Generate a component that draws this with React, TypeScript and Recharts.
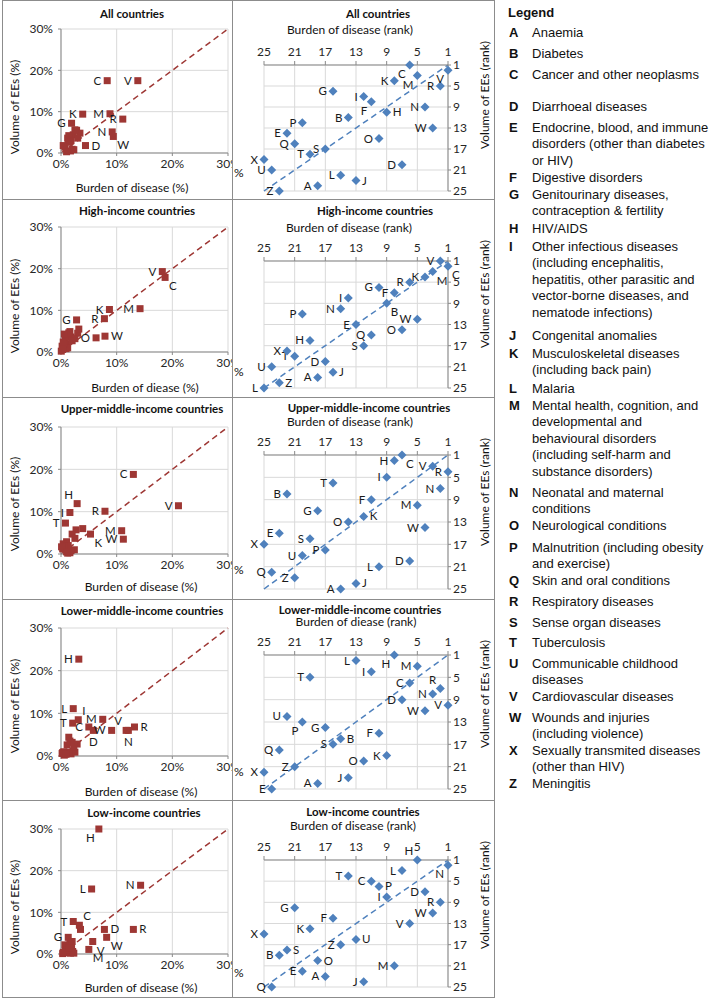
import React from 'react';
import { ScatterChart, Scatter, XAxis, YAxis, CartesianGrid, ReferenceLine } from 'recharts';

// disease letters, same order in every array below
const diseases = ['A', 'B', 'C', 'D', 'E', 'F', 'G', 'H', 'I', 'J', 'K', 'L', 'M', 'N', 'O', 'P', 'Q', 'R', 'S', 'T', 'U', 'V', 'W', 'X', 'Z'];

const panelTitles = ['All countries', 'High-income countries', 'Upper-middle-income countries', 'Lower-middle-income countries', 'Low-income countries'];
const pctXTitles = ['Burden of disease (%)', 'Burden of diease (%)', 'Burden of disease (%)', 'Burden of disease (%)', 'Burden of disease (%)'];
const rankXTitles = ['Burden of disease (rank)', 'Burden of disease (rank)', 'Burden of disease (rank)', 'Burden of diease (rank)', 'Burden of disease (rank)'];
const pctTicks = [0, 10, 20, 30];
const rankTicks = [1, 5, 9, 13, 17, 21, 25];

// All countries
const allBurdenPct = [1.7, 2.2, 8.3, 4.4, 1.2, 2.8, 1.9, 3.4, 2.5, 2.3, 3.9, 2.0, 8.8, 9.2, 3.0, 1.4, 1.3, 11.1, 1.8, 1.5, 0.7, 13.8, 9.4, 0.4, 1.0];
const allVolumePct = [0.5, 4.4, 17.5, 1.8, 3.6, 5.5, 7.2, 4.8, 5.6, 0.8, 9.4, 0.9, 9.5, 5.1, 3.6, 4.2, 3.2, 8.2, 3.0, 2.6, 1.4, 17.5, 4.0, 1.8, 0.3];
const allBurdenRank = [18, 14, 6, 7, 22, 11, 16, 9, 12, 13, 8, 15, 5, 4, 10, 20, 21, 2, 17, 19, 24, 1, 3, 25, 23];
const allVolumeRank = [24, 11, 1, 20, 14, 8, 6, 10, 7, 23, 4, 22, 3, 9, 15, 12, 16, 5, 17, 18, 21, 2, 13, 19, 25];

// High-income countries
const highBurdenPct = [0.9, 3.0, 18.7, 1.1, 1.8, 3.2, 2.8, 0.8, 1.6, 1.2, 8.7, 0.05, 14.2, 1.4, 6.3, 0.6, 2.5, 7.8, 2.0, 0.5, 0.2, 18.2, 7.9, 0.4, 0.3];
const highVolumePct = [0.8, 4.5, 17.9, 1.8, 3.6, 5.5, 7.7, 3.0, 4.9, 1.0, 10.2, 0.2, 10.4, 4.6, 3.4, 4.3, 3.2, 8.0, 2.7, 2.0, 1.4, 19.3, 3.8, 2.4, 0.6];
const highBurdenRank = [18, 9, 1, 17, 13, 8, 10, 19, 14, 16, 4, 25, 3, 15, 7, 20, 11, 6, 12, 21, 24, 2, 5, 22, 23];
const highVolumeRank = [23, 9, 2, 20, 13, 7, 6, 16, 8, 22, 4, 25, 3, 10, 14, 11, 15, 5, 17, 19, 21, 1, 12, 18, 24];

// Upper-middle-income countries
const upperBurdenPct = [1.2, 1.0, 13.0, 2.4, 0.4, 2.7, 2.0, 2.9, 1.6, 1.6, 5.3, 1.8, 10.9, 3.9, 2.5, 1.3, 0.3, 7.9, 0.7, 0.8, 0.6, 21.1, 11.2, 0.1, 1.0];
const upperVolumePct = [0.2, 2.9, 18.8, 1.0, 2.4, 5.7, 4.7, 11.9, 9.8, 0.3, 4.7, 0.8, 5.5, 6.0, 3.7, 2.0, 1.2, 10.1, 1.3, 7.3, 1.8, 11.4, 3.5, 1.7, 0.5];
const upperBurdenRank = [15, 22, 7, 6, 23, 11, 18, 8, 9, 13, 12, 10, 5, 2, 14, 17, 24, 1, 19, 16, 20, 3, 4, 25, 21];
const upperVolumeRank = [25, 8, 1, 20, 15, 9, 11, 2, 5, 24, 12, 21, 10, 7, 13, 18, 22, 4, 16, 6, 19, 3, 14, 17, 23];

// Lower-middle-income countries
const lowerBurdenPct = [1.8, 2.9, 5.0, 5.8, 0.6, 1.4, 1.6, 3.2, 3.1, 2.5, 2.0, 2.2, 7.5, 12.1, 1.4, 0.5, 0.2, 13.2, 2.3, 2.1, 1.1, 11.7, 9.1, 0.3, 0.9];
const lowerVolumePct = [0.5, 2.8, 6.8, 6.0, 0.2, 4.4, 3.5, 22.7, 8.5, 0.9, 3.2, 11.1, 8.6, 6.0, 0.9, 1.0, 0.6, 6.8, 2.0, 7.7, 2.6, 6.0, 6.0, 0.8, 0.4];
const lowerBurdenRank = [18, 15, 6, 7, 24, 10, 17, 8, 11, 14, 9, 13, 5, 3, 12, 20, 23, 2, 16, 19, 22, 1, 4, 25, 21];
const lowerVolumeRank = [24, 16, 6, 9, 25, 15, 14, 1, 4, 23, 19, 2, 3, 8, 20, 13, 18, 7, 17, 5, 12, 10, 11, 22, 21];

// Low-income countries
const lowBurdenPct = [1.7, 0.8, 3.3, 7.8, 1.2, 1.6, 1.3, 6.8, 2.0, 2.3, 0.7, 5.5, 5.0, 14.3, 2.1, 3.5, 0.3, 13.0, 1.0, 2.2, 1.9, 5.7, 8.2, 0.4, 1.5];
const lowVolumePct = [0.2, 0.6, 6.9, 5.9, 0.3, 2.8, 4.0, 30.0, 3.0, 0.2, 2.2, 15.6, 1.1, 16.5, 0.6, 5.9, 0.1, 5.9, 1.0, 7.8, 1.8, 3.0, 4.0, 0.4, 1.4];
const lowBurdenRank = [17, 23, 11, 4, 20, 16, 21, 5, 9, 12, 19, 7, 8, 1, 18, 10, 24, 2, 22, 14, 13, 6, 3, 25, 15];
const lowVolumeRank = [23, 19, 5, 7, 22, 12, 10, 1, 8, 24, 14, 3, 21, 2, 20, 6, 25, 9, 18, 4, 16, 13, 11, 15, 17];

const legendText = [
  ['Anaemia'],
  ['Diabetes'],
  ['Cancer and other neoplasms'],
  ['Diarrhoeal diseases'],
  ['Endocrine, blood, and immune', 'disorders (other than diabetes', 'or HIV)'],
  ['Digestive disorders'],
  ['Genitourinary diseases,', 'contraception & fertility'],
  ['HIV/AIDS'],
  ['Other infectious diseases', '(including encephalitis,', 'hepatitis, other parasitic and', 'vector-borne diseases, and', 'nematode infections)'],
  ['Congenital anomalies'],
  ['Musculoskeletal diseases', '(including back pain)'],
  ['Malaria'],
  ['Mental health, cognition, and', 'developmental and', 'behavioural disorders', '(including self-harm and', 'substance disorders)'],
  ['Neonatal and maternal', 'conditions'],
  ['Neurological conditions'],
  ['Malnutrition (including obesity', 'and exercise)'],
  ['Skin and oral conditions'],
  ['Respiratory diseases'],
  ['Sense organ diseases'],
  ['Tuberculosis'],
  ['Communicable childhood', 'diseases'],
  ['Cardiovascular diseases'],
  ['Wounds and injuries', '(including violence)'],
  ['Sexually transmited diseases', '(other than HIV)'],
  ['Meningitis'],
];

// which letters are written next to the points, and on which side
const pctSides: Record<string, string>[] = [
  { C: 'l', V: 'l', K: 'l', M: 'l', R: 'l', G: 'l', N: 'l', W: 'br', D: 'r' },
  { V: 'l', C: 'br', K: 'l', M: 'l', R: 'l', G: 'l', O: 'l', W: 'r' },
  { C: 'l', V: 'l', H: 'al', I: 'l', R: 'l', T: 'l', M: 'l', W: 'l', K: 'br' },
  { H: 'l', L: 'l', I: 'ar', M: 'l', T: 'l', C: 'l', D: 'b', W: 'l', V: 'al', R: 'r', N: 'b' },
  { H: 'bl', L: 'l', N: 'l', T: 'l', C: 'ar', D: 'r', R: 'r', G: 'l', W: 'br', V: 'br', M: 'br' },
];
const rankSides: Record<string, string>[] = [
  { H: 'r', J: 'r', F: 'bl', C: 'bl', M: 'bl', V: 'bl' },
  { C: 'br', M: 'br', B: 'br', J: 'r', Z: 'r' },
  { C: 'br', K: 'r', J: 'r' },
  { H: 'bl', R: 'al', P: 'bl', B: 'r' },
  { H: 'al', N: 'bl', P: 'r', U: 'r', S: 'r', O: 'r' },
];

const RED = '#9E3734';
const BLUE = '#4F81BD';
const AXIS = '#898989';
const GRID = '#D9D9D9';
const FONT = 'Lato, "Open Sans", sans-serif';
const LEGEND_FONT = '"Liberation Sans", Arial, sans-serif';

const rowTop = [0, 199, 397, 599, 800];
const rowH = [199, 198, 202, 201, 197];
const pctPlot = [[29, 153], [28, 153], [30, 157], [29, 157], [29, 154]];
const rankPlot = [[65, 191], [62, 189], [58, 192], [56, 190], [60, 187]];
const pctTitleX = [130, 135, 140, 140, 142];
const pctTitleY = [14, 12, 12, 12, 13];
const pctXTitleX = [130, 143, 139, 139, 139];
const pctXTitleY = [188, 189, 190, 193, 188];
const rankTitleX = [145, 142, 136, 127, 130];
const rankTitleY = [14, 12, 11, 11, 12];
const rankSubX = [117, 116, 117, 123, 120];
const rankSubY = [30, 29, 25, 23, 26];

const legendY = [33, 54, 75, 107, 128, 178, 195, 229, 247, 336, 354, 389, 406, 493, 526, 548, 581, 602, 623, 643, 664, 697, 718, 751, 784];

type Pt = { id: string; x: number; y: number };
const toPts = (xs: number[], ys: number[]): Pt[] => diseases.map((id, i) => ({ id, x: xs[i], y: ys[i] }));

const OFF: Record<string, [number, number, 'start' | 'middle' | 'end']> = {
  l: [-6, 4, 'end'],
  r: [6, 4, 'start'],
  b: [0, 16, 'middle'],
  bl: [-4, 13, 'end'],
  br: [4, 13, 'start'],
  al: [-4, -5, 'end'],
  ar: [4, -5, 'start'],
};

const makeShape = (kind: 'square' | 'diamond', color: string, sides: Record<string, string>, labelAll: boolean) =>
  (p: any) => {
    const { cx, cy, payload } = p;
    const side = sides[payload.id] ?? (labelAll ? 'l' : undefined);
    const o = side ? OFF[side] : null;
    return (
      <g>
        {kind === 'square' ? (
          <rect x={cx - 3.5} y={cy - 3.5} width={7} height={7} fill={color} />
        ) : (
          <path d={`M${cx},${cy - 4.5}L${cx + 4.5},${cy}L${cx},${cy + 4.5}L${cx - 4.5},${cy}Z`} fill={color} />
        )}
        {o && (
          <text x={cx + o[0]} y={cy + o[1]} textAnchor={o[2]} fontSize={11.5} fontFamily={FONT} fill="#1a1a1a">
            {payload.id}
          </text>
        )}
      </g>
    );
  };

const tickStyle = { fontSize: 12, fill: '#262626', fontFamily: FONT };

function Text({ x, y, children, bold, size = 12, rotate }: any) {
  return (
    <div
      style={{
        position: 'absolute', left: x, top: y, whiteSpace: 'nowrap', lineHeight: 1,
        transform: `translate(-50%, -50%)${rotate ? ' rotate(-90deg)' : ''}`,
        fontFamily: FONT, fontSize: size, fontWeight: bold ? 700 : 400, color: '#111',
      }}
    >
      {children}
    </div>
  );
}

function PctPanel({ i, burden, volume }: { i: number; burden: number[]; volume: number[] }) {
  const [pt, pb] = pctPlot[i];
  const h = rowH[i];
  return (
    <div style={{ position: 'absolute', left: 2, top: rowTop[i], width: 230, height: h }}>
      <ScatterChart width={230} height={h} margin={{ top: pt, right: 4, bottom: h - pb - 20, left: 0 }}>
        <CartesianGrid stroke={GRID} />
        <XAxis type="number" dataKey="x" domain={[0, 30]} ticks={pctTicks} interval={0} tickFormatter={(v) => `${v}%`}
          height={20} tickSize={3} tickMargin={3} axisLine={{ stroke: AXIS }} tickLine={{ stroke: AXIS }} tick={tickStyle} />
        <YAxis type="number" dataKey="y" domain={[0, 30]} ticks={pctTicks} interval={0} tickFormatter={(v) => `${v}%`}
          width={59} tickSize={3} tickMargin={5} axisLine={{ stroke: AXIS }} tickLine={{ stroke: AXIS }} tick={tickStyle} />
        <ReferenceLine segment={[{ x: 0, y: 0 }, { x: 30, y: 30 }]} stroke={RED} strokeWidth={1.5} strokeDasharray="6 4" />
        <Scatter data={toPts(burden, volume)} shape={makeShape('square', RED, pctSides[i], false)} isAnimationActive={false} />
      </ScatterChart>
      <Text x={pctTitleX[i]} y={pctTitleY[i]} bold size={11.5}>{panelTitles[i]}</Text>
      <Text x={pctXTitleX[i]} y={pctXTitleY[i]}>{pctXTitles[i]}</Text>
      <Text x={13} y={107} rotate>Volume of EEs (%)</Text>
    </div>
  );
}

function RankPanel({ i, burden, volume }: { i: number; burden: number[]; volume: number[] }) {
  const [pt, pb] = rankPlot[i];
  const h = rowH[i];
  return (
    <div style={{ position: 'absolute', left: 233, top: rowTop[i], width: 261, height: h, overflow: 'hidden' }}>
      <ScatterChart width={261} height={h} margin={{ top: pt - 20, right: 0, bottom: h - pb, left: 31 }}>
        <CartesianGrid stroke={GRID} />
        <XAxis type="number" dataKey="x" orientation="top" reversed domain={[1, 25]} ticks={rankTicks} interval={0}
          height={20} tickSize={4} tickMargin={5} axisLine={{ stroke: AXIS }} tickLine={{ stroke: AXIS }} tick={tickStyle} />
        <YAxis type="number" dataKey="y" orientation="right" reversed domain={[1, 25]} ticks={rankTicks} interval={0}
          width={46} tickSize={3} tickMargin={2} axisLine={{ stroke: AXIS }} tickLine={{ stroke: AXIS }} tick={{ ...tickStyle, textAnchor: 'start' }} />
        <ReferenceLine segment={[{ x: 25, y: 25 }, { x: 1, y: 1 }]} stroke={BLUE} strokeWidth={1.5} strokeDasharray="6 4" />
        <Scatter data={toPts(burden, volume)} shape={makeShape('diamond', BLUE, rankSides[i], true)} isAnimationActive={false} />
      </ScatterChart>
      <Text x={rankTitleX[i]} y={rankTitleY[i]} bold size={11.5}>{panelTitles[i]}</Text>
      <Text x={rankSubX[i]} y={rankSubY[i]}>{rankXTitles[i]}</Text>
      <Text x={252} y={95} rotate>Volume of EEs (rank)</Text>
      <div style={{ position: 'absolute', left: 1, top: 165, fontFamily: FONT, fontSize: 12, color: '#111' }}>%</div>
    </div>
  );
}

const pctSets = [
  [allBurdenPct, allVolumePct],
  [highBurdenPct, highVolumePct],
  [upperBurdenPct, upperVolumePct],
  [lowerBurdenPct, lowerVolumePct],
  [lowBurdenPct, lowVolumePct],
];
const rankSets = [
  [allBurdenRank, allVolumeRank],
  [highBurdenRank, highVolumeRank],
  [upperBurdenRank, upperVolumeRank],
  [lowerBurdenRank, lowerVolumeRank],
  [lowBurdenRank, lowVolumeRank],
];

export default function App() {
  const line = (style: React.CSSProperties, key: string) => (
    <div key={key} style={{ position: 'absolute', background: '#8C8C8C', ...style }} />
  );
  return (
    <div style={{ position: 'absolute', left: 0, top: 0, width: 709, height: 999, background: '#fff', overflow: 'hidden' }}>
      {pctSets.map(([b, v], i) => <PctPanel key={`p${i}`} i={i} burden={b} volume={v} />)}
      {rankSets.map(([b, v], i) => <RankPanel key={`r${i}`} i={i} burden={b} volume={v} />)}

      {line({ left: 2, top: 0, width: 493, height: 1 }, 'top')}
      {line({ left: 2, top: 997, width: 493, height: 1 }, 'bottom')}
      {line({ left: 2, top: 0, width: 1, height: 998 }, 'left')}
      {line({ left: 232, top: 0, width: 1, height: 998 }, 'mid')}
      {line({ left: 494, top: 0, width: 1, height: 998 }, 'right')}
      {rowTop.slice(1).map((t, k) => line({ left: 2, top: t, width: 493, height: 1 }, `h${k}`))}

      <div style={{ position: 'absolute', left: 508, top: 5, fontFamily: LEGEND_FONT, fontSize: 13, fontWeight: 700, color: '#111' }}>
        Legend
      </div>
      {diseases.map((d, i) => (
        <React.Fragment key={d}>
          <div style={{ position: 'absolute', left: 509, top: legendY[i] - 8.25, lineHeight: '16.5px', fontFamily: LEGEND_FONT, fontSize: 13, fontWeight: 700, color: '#111' }}>
            {d}
          </div>
          {legendText[i].map((t, k) => (
            <div key={k} style={{ position: 'absolute', left: 532, top: legendY[i] - 8.25 + k * 16.5, lineHeight: '16.5px', whiteSpace: 'nowrap', fontFamily: LEGEND_FONT, fontSize: 13, color: '#111' }}>
              {t}
            </div>
          ))}
        </React.Fragment>
      ))}
    </div>
  );
}
